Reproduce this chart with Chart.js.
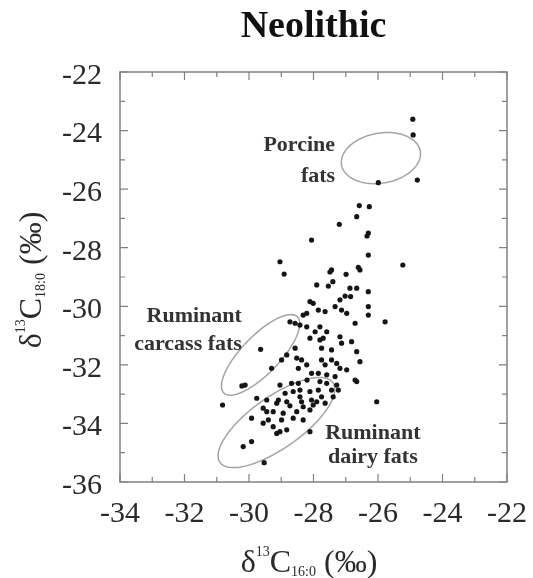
<!DOCTYPE html>
<html>
<head>
<meta charset="utf-8">
<script src="https://cdn.jsdelivr.net/npm/chart.js@4/dist/chart.umd.min.js"></script>
<style>
  html, body { margin: 0; padding: 0; background: #fff; }
  #grafico { display: block; }
</style>
</head>
<body>
<canvas id="grafico" width="533" height="578"></canvas>
<script>
// Valores: δ13C del C16:0 (x) y del C18:0 (y), en ‰.
const d13C16 = [
  -24.92, -24.91, -25.99, -24.78, -26.58, -26.27, -26.66, -27.20, -26.30, -26.34,
  -28.06, -26.30, -25.23, -29.04, -28.91, -27.44, -27.49, -26.61, -26.56, -26.99,
  -27.90, -27.54, -27.40, -26.87, -26.66, -26.30, -27.02, -27.18, -26.85, -28.11,
  -28.01, -27.33, -27.13, -26.30, -27.85, -27.64, -28.21, -28.32, -26.97, -26.30,
  -25.78, -28.73, -28.57, -28.42, -28.21, -27.80, -26.71, -27.95, -27.59, -28.11,
  -27.80, -27.70, -27.18, -27.13, -26.82, -26.66, -26.56, -28.57, -28.83, -28.99,
  -28.52, -28.37, -27.75, -27.44, -27.75, -27.64, -27.44, -27.28, -27.18, -26.97,
  -29.30, -28.47, -28.21, -28.06, -27.85, -27.59, -27.33, -26.71, -29.04, -28.68,
  -28.47, -27.80, -27.59, -27.28, -28.88, -28.63, -28.42, -27.85, -27.44, -27.23,
  -27.75, -27.39, -29.09, -28.83, -28.37, -28.06, -28.01, -27.64, -29.64, -30.12,
  -30.22, -30.82, -26.04, -29.76, -29.45, -29.14, -28.73, -28.32, -29.56, -29.25,
  -28.94, -28.52, -28.11, -29.92, -29.40, -28.99, -28.63, -28.32, -29.56, -29.25,
  -28.83, -29.14, -28.11, -29.92, -30.18, -29.53, -28.42, -28.20, -26.66, -28.11,
  -27.90, -29.45, -29.04,
];
const d13C18 = [
  -23.61, -24.15, -25.78, -25.69, -26.56, -26.60, -26.94, -27.20, -27.50, -27.60,
  -27.74, -28.25, -28.59, -28.48, -28.90, -28.76, -28.83, -28.67, -28.76, -28.91,
  -29.27, -29.31, -29.16, -29.38, -29.38, -29.50, -29.65, -29.78, -29.67, -29.84,
  -29.90, -30.01, -30.13, -30.01, -30.13, -30.18, -30.24, -30.30, -30.24, -30.30,
  -30.53, -30.53, -30.58, -30.64, -30.70, -30.70, -30.58, -30.87, -30.87, -31.09,
  -31.15, -31.09, -31.04, -31.26, -31.21, -31.55, -31.89, -31.43, -31.66, -31.83,
  -31.77, -31.83, -31.43, -31.49, -31.83, -32.00, -31.83, -31.95, -32.12, -32.17,
  -32.12, -32.12, -32.00, -32.29, -32.29, -32.34, -32.40, -32.52, -32.69, -32.63,
  -32.63, -32.57, -32.63, -32.69, -32.97, -32.91, -32.86, -32.86, -32.86, -32.86,
  -33.09, -33.09, -33.20, -33.26, -33.26, -33.20, -33.37, -33.31, -31.47, -32.69,
  -32.72, -33.37, -33.26, -33.14, -33.20, -33.31, -33.40, -33.43, -33.48, -33.60,
  -33.65, -33.60, -33.54, -33.82, -33.88, -33.88, -33.82, -33.88, -33.99, -34.11,
  -34.22, -34.34, -34.28, -34.62, -34.79, -35.34, -33.09, -32.52, -32.57, -32.91,
  -33.26, -33.60, -34.28,
];

// Ejes y marcas.
const xRango = [-34, -22];
const yRango = [-36, -22];

// Elipses de referencia: centro, extremo del eje mayor y extremo del eje menor (‰).
const elipseCentros = [[-25.91, -24.94], [-29.64, -31.66], [-29.15, -33.97]];
const elipseMayor = [[-24.69, -24.70], [-28.50, -30.36], [-27.40, -32.61]];
const elipseMenor = [[-25.77, -25.78], [-29.22, -32.11], [-28.69, -34.69]];

// Rótulos de las elipses: líneas, ancla (‰) y alineación.
const rotulos = [
  { lineas: ['Porcine', 'fats'], x: -27.33, y: [-24.70, -25.74], align: 'right' },
  { lineas: ['Ruminant', 'carcass fats'], x: -30.22, y: [-30.54, -31.49], align: 'right' },
  { lineas: ['Ruminant', 'dairy fats'], x: -26.16, y: [-34.53, -35.35], align: 'center' },
];

const SERIF = '"Liberation Serif", "DejaVu Serif", "Times New Roman", serif';

// Marco completo y marcas hacia dentro en los cuatro lados.
const marco = {
  id: 'marco',
  afterDraw(chart) {
    const { ctx, chartArea: a, scales } = chart;
    ctx.save();
    ctx.strokeStyle = '#808080';
    ctx.lineWidth = 1.5;
    ctx.strokeRect(a.left, a.top, a.right - a.left, a.bottom - a.top);
    ctx.lineWidth = 1.2;
    ctx.beginPath();
    scales.x.ticks.forEach((t) => {
      const p = scales.x.getPixelForValue(t.value);
      const l = t.value % 2 === 0 ? 8 : 5;
      ctx.moveTo(p, a.bottom); ctx.lineTo(p, a.bottom - l);
      ctx.moveTo(p, a.top); ctx.lineTo(p, a.top + l);
    });
    scales.y.ticks.forEach((t) => {
      const p = scales.y.getPixelForValue(t.value);
      const l = t.value % 2 === 0 ? 8 : 5;
      ctx.moveTo(a.left, p); ctx.lineTo(a.left + l, p);
      ctx.moveTo(a.right, p); ctx.lineTo(a.right - l, p);
    });
    ctx.stroke();
    ctx.restore();
  },
};

// Elipses dibujadas con las escalas del gráfico (diámetros conjugados).
const elipses = {
  id: 'elipses',
  beforeDatasetsDraw(chart) {
    const { ctx, scales: { x, y } } = chart;
    ctx.save();
    ctx.strokeStyle = '#a3a3a3';
    ctx.lineWidth = 1.5;
    elipseCentros.forEach((c, i) => {
      const cx = x.getPixelForValue(c[0]);
      const cy = y.getPixelForValue(c[1]);
      const ax = x.getPixelForValue(elipseMayor[i][0]) - cx;
      const ay = y.getPixelForValue(elipseMayor[i][1]) - cy;
      const bx = x.getPixelForValue(elipseMenor[i][0]) - cx;
      const by = y.getPixelForValue(elipseMenor[i][1]) - cy;
      ctx.beginPath();
      for (let k = 0; k <= 120; k++) {
        const t = (k / 120) * Math.PI * 2;
        const px = cx + Math.cos(t) * ax + Math.sin(t) * bx;
        const py = cy + Math.cos(t) * ay + Math.sin(t) * by;
        if (k === 0) ctx.moveTo(px, py); else ctx.lineTo(px, py);
      }
      ctx.stroke();
    });
    ctx.restore();
  },
};

// Rótulos en negrita junto a cada elipse.
const textos = {
  id: 'textos',
  afterDatasetsDraw(chart) {
    const { ctx, scales: { x, y } } = chart;
    ctx.save();
    ctx.fillStyle = '#333';
    ctx.font = `bold 22px ${SERIF}`;
    ctx.textBaseline = 'alphabetic';
    rotulos.forEach((r) => {
      ctx.textAlign = r.align;
      r.lineas.forEach((linea, i) => {
        ctx.fillText(linea, x.getPixelForValue(r.x), y.getPixelForValue(r.y[i]));
      });
    });
    ctx.restore();
  },
};

// Títulos de eje con superíndice y subíndice.
function trozos(sub) {
  return [
    { t: 'δ', s: 32, dy: 0 },
    { t: '13', s: 14, dy: -16 },
    { t: 'C', s: 32, dy: 0 },
    { t: sub, s: 14, dy: 4 },
    { t: ' (‰)', s: 32, dy: 0 },
  ];
}

function escribir(ctx, partes, cx, base) {
  let ancho = 0;
  partes.forEach((p) => {
    ctx.font = `${p.s}px ${SERIF}`;
    ancho += ctx.measureText(p.t).width;
  });
  let xx = cx - ancho / 2;
  partes.forEach((p) => {
    ctx.font = `${p.s}px ${SERIF}`;
    ctx.fillText(p.t, xx, base + p.dy);
    xx += ctx.measureText(p.t).width;
  });
}

const titulosEje = {
  id: 'titulosEje',
  afterDraw(chart) {
    const { ctx } = chart;
    ctx.save();
    ctx.fillStyle = '#2a2a2a';
    ctx.textAlign = 'left';
    ctx.textBaseline = 'alphabetic';
    escribir(ctx, trozos('16:0'), 309, 572);
    ctx.translate(41, 280);
    ctx.rotate(-Math.PI / 2);
    escribir(ctx, trozos('18:0'), 0, 0);
    ctx.restore();
  },
};

const puntos = d13C16.map((v, i) => ({ x: v, y: d13C18[i] }));

new Chart(document.getElementById('grafico').getContext('2d'), {
  type: 'scatter',
  data: {
    datasets: [
      {
        data: puntos,
        pointRadius: 2.6,
        pointBackgroundColor: '#151515',
        pointBorderWidth: 0,
      },
    ],
  },
  options: {
    responsive: false,
    animation: false,
    layout: { padding: { right: 26 } },
    plugins: {
      legend: { display: false },
      tooltip: { enabled: false },
      title: {
        display: true,
        text: 'Neolithic',
        fullSize: false,
        color: '#111',
        font: { family: SERIF, size: 38, weight: 'bold', lineHeight: 1 },
        padding: { top: 8, bottom: 26 },
      },
    },
    scales: {
      x: {
        type: 'linear',
        min: xRango[0],
        max: xRango[1],
        grid: { display: false, drawTicks: false },
        border: { display: false },
        ticks: {
          stepSize: 1,
          autoSkip: false,
          maxRotation: 0,
          padding: 14,
          color: '#2a2a2a',
          font: { family: SERIF, size: 30 },
          callback: (v) => (v % 2 === 0 ? String(v) : ''),
        },
        afterFit: (s) => {
          s.height = 96;
          s.paddingLeft = 0;
          s.paddingRight = 0;
        },
      },
      y: {
        type: 'linear',
        min: yRango[0],
        max: yRango[1],
        grid: { display: false, drawTicks: false },
        border: { display: false },
        ticks: {
          stepSize: 1,
          autoSkip: false,
          padding: 18,
          labelOffset: 4,
          color: '#2a2a2a',
          font: { family: SERIF, size: 30 },
          callback: (v) => (v % 2 === 0 ? String(v) : ''),
        },
        afterFit: (s) => {
          s.width = 120;
          s.paddingTop = 0;
          s.paddingBottom = 0;
        },
      },
    },
  },
  plugins: [elipses, textos, marco, titulosEje],
});
</script>
</body>
</html>
